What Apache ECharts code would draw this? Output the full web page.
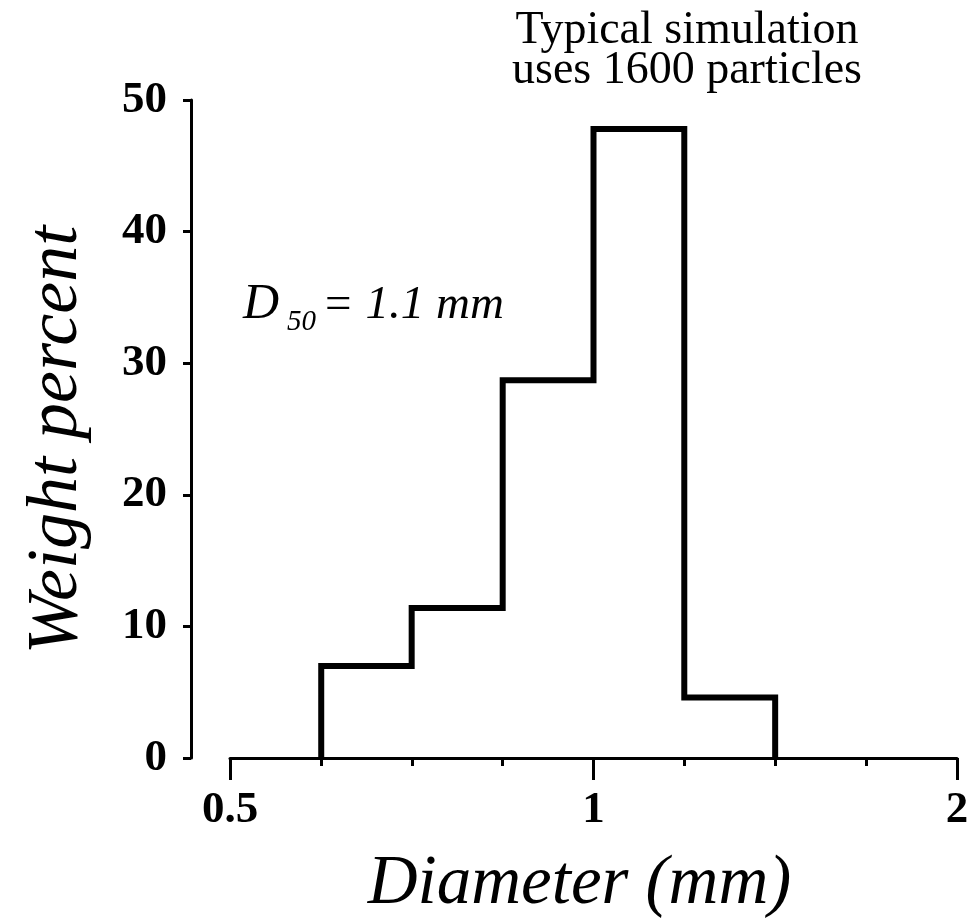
<!DOCTYPE html>
<html>
<head>
<meta charset="utf-8">
<script src="https://cdn.jsdelivr.net/npm/echarts@6/dist/echarts.min.js"></script>
<style>
html,body{margin:0;padding:0;background:#fff;}
#chart{width:976px;height:924px;}
</style>
</head>
<body>
<div id="chart"></div>
<script>
// Bin edges (mm), quarter-octave sieve classes
var binEdges = [0.595, 0.707, 0.841, 1.0, 1.189, 1.414];
// Weight percent in each bin
var weightPercent = [7.0, 11.4, 28.7, 47.8, 4.6];
var yTicks = [0, 10, 20, 30, 40, 50];
var xTickLabels = ['0.5', '1', '2'];

var FONT = '"Liberation Serif", "Times New Roman", serif';

// Build step outline of the histogram from the arrays
var outline = [[binEdges[0], 0]];
for (var i = 0; i < weightPercent.length; i++) {
  outline.push([binEdges[i], weightPercent[i]]);
  outline.push([binEdges[i + 1], weightPercent[i]]);
}
outline.push([binEdges[binEdges.length - 1], 0]);

var chart = echarts.init(document.getElementById('chart'), null, {renderer: 'canvas'});
chart.setOption({
  animation: false,
  backgroundColor: '#ffffff',
  grid: {left: 230, right: 19, top: 100, bottom: 166, containLabel: false, outerBoundsMode: 'none'},
  xAxis: [{
    type: 'log',
    logBase: 2,
    min: 0.5,
    max: 2,
    name: 'Diameter (mm)',
    nameLocation: 'middle',
    nameGap: 92,
    nameTextStyle: {fontFamily: FONT, fontStyle: 'italic', fontSize: 69, color: '#000', padding: [0, 28, 0, 0]},
    axisLine: {show: true, onZero: false, lineStyle: {color: '#000', width: 3}},
    axisTick: {show: true, length: 22, lineStyle: {color: '#000', width: 3}},
    minorTick: {show: false},
    axisLabel: {
      margin: 30, color: '#000', fontFamily: FONT, fontWeight: 'bold', fontSize: 45,
      showMinLabel: true, showMaxLabel: true,
      formatter: function (v) {
        var s = String(+v.toFixed(3));
        return xTickLabels.indexOf(s) >= 0 ? s : '';
      }
    },
    splitLine: {show: false}
  }, {
    // helper axis in log2 space, carrying the quarter-octave minor ticks only
    type: 'value',
    min: -1,
    max: 1,
    interval: 1,
    position: 'bottom',
    axisLine: {show: false, onZero: false},
    axisTick: {show: false},
    axisLabel: {show: false},
    minorTick: {show: true, splitNumber: 4, length: 8, lineStyle: {color: '#000', width: 3}},
    splitLine: {show: false},
    minorSplitLine: {show: false}
  }],
  yAxis: {
    type: 'value',
    min: 0,
    max: 50,
    interval: 10,
    offset: 39,
    name: 'Weight percent',
    nameLocation: 'middle',
    nameGap: 98,
    nameTextStyle: {fontFamily: FONT, fontStyle: 'italic', fontSize: 72, color: '#000', padding: [0, 22, 0, 0]},
    axisLine: {show: true, onZero: false, lineStyle: {color: '#000', width: 3}},
    axisTick: {show: true, length: 8, lineStyle: {color: '#000', width: 3}},
    axisLabel: {
      margin: 24, color: '#000', fontFamily: FONT, fontWeight: 'bold', fontSize: 45,
      formatter: function (v) { return yTicks.indexOf(v) >= 0 ? String(v) : ''; }
    },
    splitLine: {show: false}
  },
  series: [{
    type: 'line',
    xAxisIndex: 0,
    data: outline,
    symbol: 'none',
    lineStyle: {color: '#000', width: 6, join: 'miter', cap: 'butt'},
    z: 5
  }],
  graphic: [
    {type: 'text', x: 687, y: 11, style: {text: 'Typical simulation\nuses 1600 particles', fill: '#000',
      fontFamily: FONT, fontSize: 46, lineHeight: 40, align: 'center', verticalAlign: 'top'}},
    {type: 'text', x: 243, y: 330, style: {text: 'D', fill: '#000', fontFamily: FONT, fontStyle: 'italic',
      fontSize: 50, align: 'left', verticalAlign: 'bottom'}},
    {type: 'text', x: 287, y: 337, style: {text: '50', fill: '#000', fontFamily: FONT, fontStyle: 'italic',
      fontSize: 29, align: 'left', verticalAlign: 'bottom'}},
    {type: 'text', x: 322, y: 329, style: {text: '= 1.1 mm', fill: '#000', fontFamily: FONT, fontStyle: 'italic',
      fontSize: 47, align: 'left', verticalAlign: 'bottom'}}
  ]
});
</script>
</body>
</html>
